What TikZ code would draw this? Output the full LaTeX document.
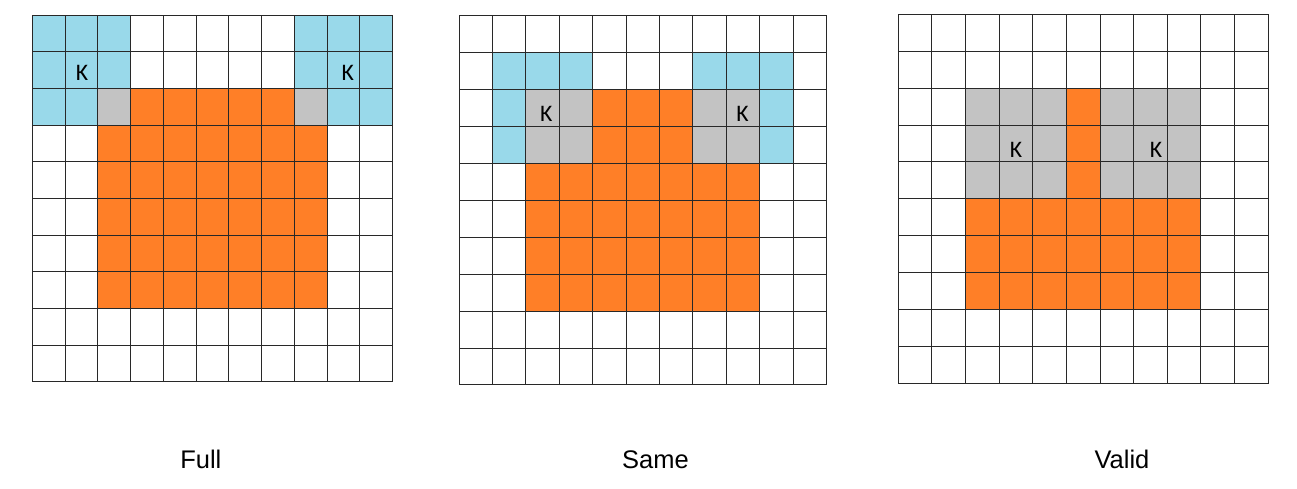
\documentclass[tikz,border=0pt]{standalone}
\usepackage{fontspec}
\setmainfont{Liberation Sans}
\newfontfamily\kernfont{Carlito}
\usepackage{tikz}
\usetikzlibrary{positioning}
\definecolor{CNNblue}{RGB}{153,217,234}
\definecolor{CNNorange}{RGB}{255,127,39}
\definecolor{CNNgray}{RGB}{195,195,195}
\definecolor{CNNline}{RGB}{40,40,40}

\begin{document}
\begin{tikzpicture}[x=0.02cm, y=-0.02cm]
  \tikzset{
  gridline/.style={CNNline, line width=0.55pt},
  kerncell/.style={fill=CNNblue},
  overlapcell/.style={fill=CNNgray},
  outcell/.style={fill=CNNorange},
  kernlab/.style={font=\kernfont\fontsize{13.5}{14}\selectfont, inner sep=0pt},
  modelab/.style={font=\fontsize{14.5}{16}\selectfont, inner sep=0pt, anchor=base},
}
\useasboundingbox (0,0) rectangle (1297,488);

% ── FULL: kernel hangs over the corners ─────────────────────
\begin{scope}[shift={(32.3,15)}, x=0.6552cm, y=-0.734cm]
  \fill[kerncell] (0,0) rectangle (3,3);
  \fill[kerncell] (8,0) rectangle (11,3);
  \fill[overlapcell] (2,2) rectangle (3,3);
  \fill[overlapcell] (8,2) rectangle (9,3);
  \fill[outcell] (3,2) rectangle (8,3);
  \fill[outcell] (2,3) rectangle (9,8);

  \foreach \i in {0,...,11} \draw[gridline] (\i,0) -- (\i,10);
  \foreach \j in {0,...,10} \draw[gridline] (0,\j) -- (11,\j);

  \node[kernlab] (kfullL) at (1.52,1.58) {K};
  \node[kernlab] (kfullR) at (9.63,1.58) {K};
\end{scope}

% ── SAME: kernel centre on the image corner ─────────────────
\begin{scope}[shift={(459,15.7)}, x=0.6686cm, y=-0.7386cm]
  \fill[kerncell] (1,1) rectangle (4,4);
  \fill[kerncell] (7,1) rectangle (10,4);
  \fill[overlapcell] (2,2) rectangle (4,4);
  \fill[overlapcell] (7,2) rectangle (9,4);
  \fill[outcell] (4,2) rectangle (7,4);
  \fill[outcell] (2,4) rectangle (9,8);

  \foreach \i in {0,...,11} \draw[gridline] (\i,0) -- (\i,10);
  \foreach \j in {0,...,10} \draw[gridline] (0,\j) -- (11,\j);

  \node[kernlab] (ksameL) at (2.61,2.67) {K};
  \node[kernlab] (ksameR) at (8.48,2.67) {K};
\end{scope}

% ── VALID: kernel stays inside ──────────────────────────────
\begin{scope}[shift={(898.3,14)}, x=0.6727cm, y=-0.74cm]
  \fill[overlapcell] (2,2) rectangle (5,5);
  \fill[overlapcell] (6,2) rectangle (9,5);
  \fill[outcell] (5,2) rectangle (6,5);
  \fill[outcell] (2,5) rectangle (9,8);

  \foreach \i in {0,...,11} \draw[gridline] (\i,0) -- (\i,10);
  \foreach \j in {0,...,10} \draw[gridline] (0,\j) -- (11,\j);

  \node[kernlab] (kvalidL) at (3.5,3.68) {K};
  \node[kernlab] (kvalidR) at (7.66,3.68) {K};
\end{scope}

% ── captions ────────────────────────────────────────────────
\node[modelab] (full) at (200.8,468.3) {Full};
\node[modelab] (same) at (655.5,468.6) {Same};
\node[modelab] (valid) at (1122,468.3) {Valid};

\end{tikzpicture}
\end{document}
